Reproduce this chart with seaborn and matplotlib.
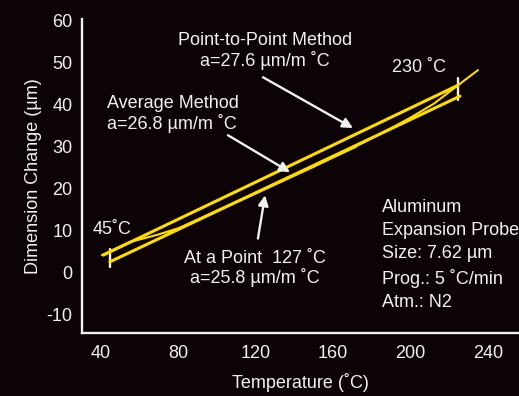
import numpy as np
import pandas as pd
import matplotlib
matplotlib.use("Agg")
import matplotlib.pyplot as plt
import seaborn as sns

# ---- data ----
curve_T = [40.5, 48, 55, 62, 70, 81, 100, 125, 150, 175, 190, 200, 212, 224.5, 234.8]
curve_y = [4.05, 5.7, 7.2, 8.0, 9.0, 10.6, 14.6, 19.8, 25.1, 30.7, 34.3, 36.8, 40.1, 44.5, 48.1]

p2p_T = [41.2, 224.5]          # point-to-point (secant) line
p2p_y = [4.05, 44.5]
avg_T = [44.65, 225.5]         # average method line
avg_y = [2.45, 41.9]
tan_T = [75, 172]              # tangent at 127 C
tan_y = [9.3, 29.9]

mark45_T = [44.6, 44.6]
mark45_y = [1.3, 5.4]
mark230_T = [224.5, 224.5]
mark230_y = [41.0, 46.3]

x_ticks = [40, 80, 120, 160, 200, 240]
y_ticks = [-10, 0, 10, 20, 30, 40, 50, 60]

BG = "#0b0305"
YEL = "#ffdc00"
FG = "#f0f0f0"

sns.set_theme(style="white")
FAM, FS = "Liberation Sans", 13
plt.rcParams["font.family"] = [FAM, "DejaVu Sans"]
plt.rcParams["axes.unicode_minus"] = False

fig = plt.figure(figsize=(5.19, 3.96), dpi=100, facecolor=BG)
ax = fig.add_axes([82 / 519, 63 / 396, 437 / 519, 313.7 / 396])
ax.set_facecolor(BG)

df_curve = pd.DataFrame({"T": curve_T, "y": curve_y})
df_p2p = pd.DataFrame({"T": p2p_T, "y": p2p_y})
df_avg = pd.DataFrame({"T": avg_T, "y": avg_y})
df_tan = pd.DataFrame({"T": tan_T, "y": tan_y})

# white end marks (under the yellow lines)
ax.plot(mark45_T, mark45_y, color=FG, lw=1.7, zorder=2)
ax.plot(mark230_T, mark230_y, color=FG, lw=1.7, zorder=2)

for d, lw in [(df_p2p, 2.2), (df_avg, 2.2), (df_tan, 1.6), (df_curve, 1.5)]:
    sns.lineplot(data=d, x="T", y="y", ax=ax, color=YEL, lw=lw, sort=False,
                 estimator=None, zorder=3)

ax.set_xlim(30.2, 256)
ax.set_ylim(-14.5, 60.2)
ax.set_xticks(x_ticks)
ax.set_xticks([220], minor=True)
ax.set_yticks(y_ticks)

for s in ["top", "right"]:
    ax.spines[s].set_visible(False)
for s in ["left", "bottom"]:
    ax.spines[s].set_color(FG)
    ax.spines[s].set_linewidth(1.7)

ax.tick_params(axis="both", which="both", colors=FG, labelcolor=FG,
               direction="out", width=1.5, labelsize=FS)
ax.tick_params(axis="y", length=4, pad=3)
ax.tick_params(axis="x", which="both", length=3.5, pad=5)

ax.set_xlabel("Temperature (˚C)", color=FG, fontsize=FS, labelpad=8)
ax.set_ylabel("Dimension Change (µm)", color=FG, fontsize=FS, labelpad=3)

tk = dict(color=FG, fontsize=FS, zorder=5)
ax.text(124.8, 52.6, "Point-to-Point Method\na=27.6 µm/m ˚C", ha="center", va="center",
        linespacing=1.15, **tk)
ax.text(43.1, 37.6, "Average Method\na=26.8 µm/m ˚C", ha="left", va="center",
        linespacing=1.15, **tk)
ax.text(119.6, 0.83, "At a Point  127 ˚C\na=25.8 µm/m ˚C", ha="center", va="center",
        linespacing=1.1, **tk)
ax.text(204.3, 48.8, "230 ˚C", ha="center", va="center", **tk)
ax.text(45.7, 10.2, "45˚C", ha="center", va="center", **tk)
ax.text(185.2, 4.05, "Aluminum\nExpansion Probe\nSize: 7.62 µm\nProg.: 5 ˚C/min\nAtm.: N2",
        ha="left", va="center", linespacing=1.45, **tk)

ap = dict(arrowstyle="-|>", color=FG, lw=1.7, mutation_scale=15, shrinkA=0, shrinkB=0)
ax.annotate("", xy=(170.2, 34.3), xytext=(123.7, 46.4), arrowprops=ap, zorder=6)
ax.annotate("", xy=(137.7, 23.8), xytext=(105.6, 32.6), arrowprops=ap, zorder=6)
ax.annotate("", xy=(124.8, 18.3), xytext=(121.1, 8.0), arrowprops=ap, zorder=6)

fig.savefig("out.png", dpi=100, facecolor=BG)
